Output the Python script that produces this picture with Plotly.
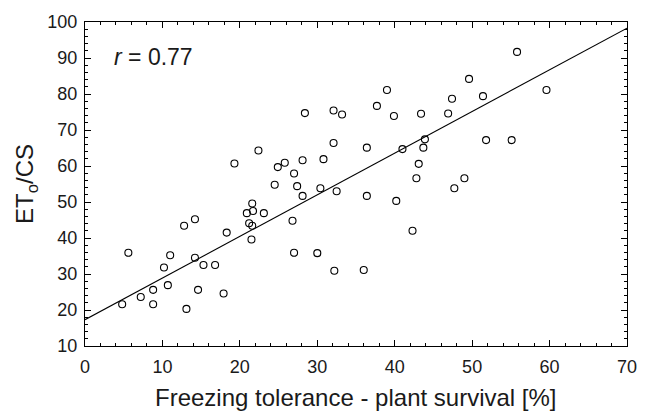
import plotly.graph_objects as go

# Freezing tolerance (plant survival, %) vs ETo/CS
survival = [19.3, 22.4, 24.9, 25.8, 27.0, 28.1, 28.4, 30.8, 32.1, 32.1, 33.2, 36.4, 37.7, 39.0,
            39.9, 41.0, 43.1, 42.8, 43.4, 43.7, 43.9, 46.9, 47.4, 49.6, 49.0, 51.4, 55.8, 59.6,
            51.8, 55.1, 24.5, 20.9, 21.6, 21.7, 23.1, 21.2, 21.6, 21.5, 18.3, 14.2, 12.8, 5.6,
            11.0, 14.2, 10.2, 15.3, 16.8, 10.7, 8.8, 7.2, 4.8, 8.8, 14.6, 13.1, 17.9, 27.4,
            28.1, 30.4, 32.5, 36.4, 40.2, 42.3, 26.8, 27.0, 30.0, 32.2, 36.0, 47.7]
eto_cs = [60.7, 64.3, 59.7, 60.9, 57.9, 61.6, 74.7, 61.9, 75.4, 66.4, 74.3, 65.1, 76.7, 81.1,
          73.9, 64.7, 60.6, 56.6, 74.5, 65.1, 67.4, 74.6, 78.7, 84.2, 56.6, 79.4, 91.7, 81.1,
          67.2, 67.2, 54.8, 46.9, 49.6, 47.5, 46.9, 44.1, 43.4, 39.6, 41.5, 45.2, 43.4, 35.9,
          35.2, 34.5, 31.8, 32.5, 32.5, 26.9, 25.6, 23.6, 21.6, 21.6, 25.6, 20.3, 24.6, 54.4,
          51.7, 53.8, 53.0, 51.7, 50.3, 42.0, 44.8, 35.9, 35.8, 30.9, 31.1, 53.8]

fit_x = [0, 70]
fit_y = [17.3, 98.3]

x_ticks = [0, 10, 20, 30, 40, 50, 60, 70]
y_ticks = [10, 20, 30, 40, 50, 60, 70, 80, 90, 100]

x_title = "Freezing tolerance - plant survival [%]"
y_title = "ET<sub>o</sub>/CS"
r_label = "<i>r</i> = 0.77"

font_family = "Liberation Sans, Arial, sans-serif"
txt = "#1a1a1a"

fig = go.Figure()
fig.add_trace(go.Scatter(
    x=fit_x, y=fit_y, mode="lines",
    line=dict(color="black", width=1.1), showlegend=False, hoverinfo="skip"))
fig.add_trace(go.Scatter(
    x=survival, y=eto_cs, mode="markers",
    marker=dict(symbol="circle-open", size=7, color="black", line=dict(width=1.1, color="black")),
    showlegend=False))

axis_common = dict(
    showgrid=False, zeroline=False, showline=True, linecolor="black", linewidth=1.2,
    mirror="ticks", ticks="inside", ticklen=6, tickwidth=1.2, tickcolor="black",
    tickfont=dict(family=font_family, size=18, color=txt),
    minor=dict(ticks="inside", ticklen=3, tickwidth=1, tickcolor="black", dtick=2),
    automargin=False,
)

fig.update_xaxes(range=[0, 70], tickvals=x_ticks, ticklabelstandoff=4, **axis_common)
fig.update_yaxes(range=[10, 100], tickvals=y_ticks, ticklabelstandoff=3, **axis_common)

fig.add_annotation(x=0.5, y=0, xref="paper", yref="paper", xanchor="center", yanchor="middle",
                   yshift=-51, text=x_title, showarrow=False,
                   font=dict(family=font_family, size=24, color=txt))
fig.add_annotation(x=0, y=0.5, xref="paper", yref="paper", xanchor="center", yanchor="middle",
                   xshift=-59, textangle=-90, text=y_title, showarrow=False,
                   font=dict(family=font_family, size=24, color=txt))
fig.add_annotation(x=0.05, y=0.892, xref="paper", yref="paper", xanchor="left", yanchor="middle",
                   text=r_label, showarrow=False,
                   font=dict(family=font_family, size=23, color=txt))

fig.update_layout(
    width=646, height=411,
    margin=dict(l=85, r=19, t=22, b=65),
    plot_bgcolor="white", paper_bgcolor="white",
)

fig.write_html("out.html", config={"displayModeBar": False},
               post_script="document.body.style.margin='0px';document.body.style.overflow='hidden';")
